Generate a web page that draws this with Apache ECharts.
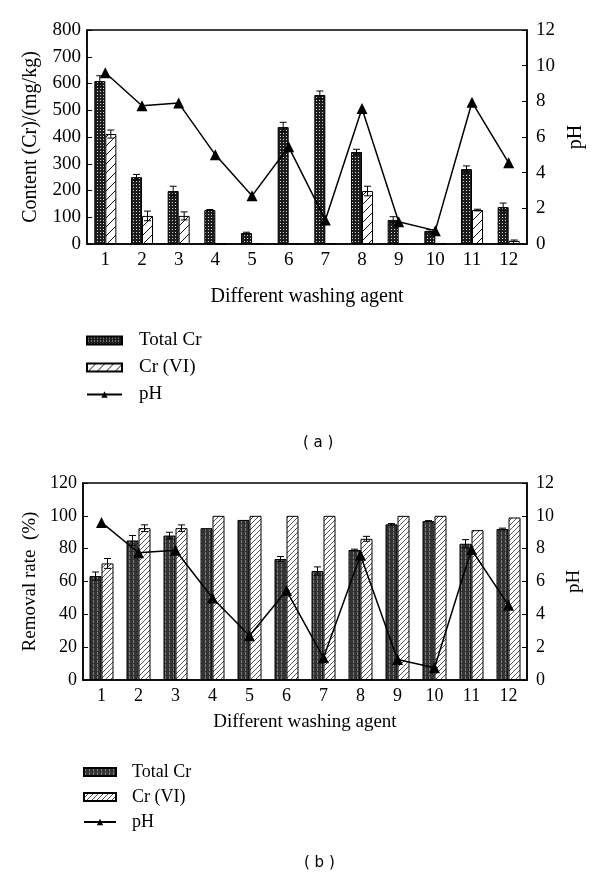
<!DOCTYPE html>
<html><head><meta charset="utf-8">
<script src="https://cdn.jsdelivr.net/npm/echarts@6/dist/echarts.min.js"></script>
<style>html,body{margin:0;padding:0;background:#fff;width:600px;height:879px;overflow:hidden}
#a{position:absolute;left:0;top:0;width:600px;height:460px}
#b{position:absolute;left:0;top:440px;width:600px;height:439px}</style>
</head><body><div id="a"></div><div id="b"></div>
<script>
// ---- data ----
const agents = ['1','2','3','4','5','6','7','8','9','10','11','12'];
const contentTotal    = [609, 250, 198, 127, 41, 437, 557, 344, 90, 49, 280, 138];
const contentTotalErr = [20, 10, 18, 2, 3, 18, 15, 10, 12, 5, 12, 15];
const contentCr6      = [411, 105, 105, 0, 2, 3, 2, 198, 3, 2, 127, 12];
const contentCr6Err   = [15, 18, 15, 0, 0, 0, 0, 18, 0, 0, 3, 3];
const pHValues        = [9.6, 7.75, 7.9, 5.0, 2.7, 5.45, 1.35, 7.6, 1.25, 0.75, 7.95, 4.55];
const removalTotal    = [63.3, 85, 88, 92.5, 97.5, 73.7, 66.4, 79.2, 94.8, 96.8, 83, 92];
const removalTotalErr = [2.5, 3, 2, 0, 0, 1.5, 2.5, 0.5, 0.5, 0.3, 2.5, 0.5];
const removalCr6      = [71, 92.5, 92.5, 100, 100, 100, 100, 86, 100, 100, 91.3, 99];
const removalCr6Err   = [3, 2, 2, 0, 0, 0, 0, 1.5, 0, 0, 0, 0];
const contentTicks = {min:0, max:800, interval:100};
const removalTicks = {min:0, max:120, interval:20};
const pHTicks = {min:0, max:12, interval:2};

const SERIF = "'Liberation Serif','Times New Roman',serif";

function tile(w, h, draw){
  const c = document.createElement('canvas'); c.width = w; c.height = h;
  const g = c.getContext('2d'); draw(g); return {image:c, repeat:'repeat'};
}
const patTopTotal = tile(3,3,g=>{g.fillStyle='#1c1c1c';g.fillRect(0,0,3,3);g.fillStyle='#d8d8d8';g.fillRect(1,1,1,1);});
const patTopCr6 = tile(9,9,g=>{g.fillStyle='#fff';g.fillRect(0,0,9,9);g.strokeStyle='#111';g.lineWidth=1;g.beginPath();g.moveTo(0,9);g.lineTo(9,0);g.stroke();});
const patBotTotal = tile(4,4,g=>{g.fillStyle='#333';g.fillRect(0,0,4,4);g.fillStyle='#7a7a7a';g.fillRect(1,0,1,3);});
const patBotCr6 = tile(5,5,g=>{g.fillStyle='#fff';g.fillRect(0,0,5,5);g.strokeStyle='#555';g.lineWidth=1;g.beginPath();g.moveTo(0,5);g.lineTo(5,0);g.stroke();});

function errSeries(vals, errs, offset){
  return {
    type:'custom', xAxisIndex:0, yAxisIndex:0, z:6, silent:true,
    data: vals.map((v,i)=>[i, v-errs[i], v+errs[i], errs[i]]),
    encode:{x:0, y:[1,2]},
    renderItem:(params, api)=>{
      if (api.value(3) <= 0) return null;
      const lo = api.coord([api.value(0), api.value(1)]);
      const hi = api.coord([api.value(0), api.value(2)]);
      const x = lo[0] + offset;
      const st = {stroke:'#000', lineWidth:1};
      return {type:'group', children:[
        {type:'line', shape:{x1:x,y1:lo[1],x2:x,y2:hi[1]}, style:st},
        {type:'line', shape:{x1:x-3.5,y1:hi[1],x2:x+3.5,y2:hi[1]}, style:st},
        {type:'line', shape:{x1:x-3.5,y1:lo[1],x2:x+3.5,y2:lo[1]}, style:st}
      ]};
    }
  };
}

function build(cfg){
  const bw = cfg.barWidth;
  return {
    animation:false,
    grid:{left:cfg.left, right:73, top:cfg.top, height:cfg.height, show:true, borderColor:'#000', borderWidth:1.5, containLabel:false},
    legend:{orient:'vertical', left:cfg.legLeft, top:cfg.legTop, itemWidth:cfg.legW, itemHeight:8, itemGap:cfg.legGap, padding:0,
      data:[{name:'Total Cr', icon:'rect'},{name:'Cr (VI)', icon:'rect'},{name:'pH'}],
      textStyle:{fontFamily:SERIF, fontSize:cfg.legFont, color:'#000', padding:[0,0,0,cfg.legPad]}},
    xAxis:{type:'category', data:agents, boundaryGap:true,
      name:'Different washing agent', nameLocation:'middle', nameGap:cfg.xNameGap,
      nameTextStyle:{fontFamily:SERIF, fontSize:cfg.nameFont, color:'#000'},
      axisLine:{lineStyle:{color:'#000', width:1.5}},
      axisTick:{inside:true, length:5, lineStyle:{color:'#000'}, alignWithLabel:false},
      axisLabel:{fontFamily:SERIF, fontSize:cfg.tickFont, color:'#000', margin:7}},
    yAxis:[
      {type:'value', min:cfg.ticks.min, max:cfg.ticks.max, interval:cfg.ticks.interval,
        name:cfg.yName, nameLocation:'middle', nameGap:cfg.yNameGap,
        nameTextStyle:{fontFamily:SERIF, fontSize:cfg.nameFont, color:'#000'},
        axisLine:{show:true, lineStyle:{color:'#000', width:1.5}},
        axisTick:{show:true, inside:true, length:5, lineStyle:{color:'#000'}},
        axisLabel:{fontFamily:SERIF, fontSize:cfg.tickFont, color:'#000', margin:6},
        splitLine:{show:false}},
      {type:'value', position:'right', min:pHTicks.min, max:pHTicks.max, interval:pHTicks.interval,
        name:'pH', nameLocation:'middle', nameGap:cfg.pHNameGap,
        nameTextStyle:{fontFamily:SERIF, fontSize:cfg.nameFont, color:'#000'},
        axisLine:{show:true, lineStyle:{color:'#000', width:1.5}},
        axisTick:{show:true, inside:true, length:5, lineStyle:{color:'#000'}},
        axisLabel:{fontFamily:SERIF, fontSize:cfg.tickFont, color:'#000', margin:9},
        splitLine:{show:false}}
    ],
    graphic:[{type:'text', left:cfg.capX, top:cfg.capY,
      style:{text:cfg.caption, font:"15px 'DejaVu Sans', sans-serif", fill:'#000'}}],
    series:[
      {name:'Total Cr', type:'bar', data:cfg.total, barWidth:bw, barGap:'0%',
        itemStyle:{color:cfg.patTotal, borderColor:'#000', borderWidth:1}},
      {name:'Cr (VI)', type:'bar', data:cfg.cr6, barWidth:bw, barGap:'0%',
        itemStyle:{color:cfg.patCr6, borderColor:'#000', borderWidth:1}},
      errSeries(cfg.total, cfg.totalErr, -bw/2),
      errSeries(cfg.cr6, cfg.cr6Err, bw/2),
      {name:'pH', type:'line', yAxisIndex:1, data:pHValues, z:10,
        symbol:'triangle', symbolSize:11, itemStyle:{color:'#000'},
        lineStyle:{color:'#000', width:1.5}}
    ]
  };
}

const chartA = echarts.init(document.getElementById('a'), null, {renderer:'canvas'});
chartA.setOption(build({
  left:87, top:30, height:214, barWidth:11, ticks:contentTicks,
  yName:'Content (Cr)/(mg/kg)', yNameGap:46, pHNameGap:33, xNameGap:43,
  tickFont:19, nameFont:20, legFont:19, legLeft:86, legTop:331, legW:35, legGap:8, legPad:12,
  total:contentTotal, totalErr:contentTotalErr, cr6:contentCr6, cr6Err:contentCr6Err,
  patTotal:patTopTotal, patCr6:patTopCr6, caption:'( a )', capX:303, capY:436
}));
const chartB = echarts.init(document.getElementById('b'), null, {renderer:'canvas'});
chartB.setOption(build({
  left:83, top:43, height:197, barWidth:12, ticks:removalTicks,
  yName:'Removal rate  (%)', yNameGap:42, pHNameGap:33, xNameGap:33,
  tickFont:18, nameFont:19, legFont:18, legLeft:83, legTop:323, legW:32, legGap:7, legPad:11,
  total:removalTotal, totalErr:removalTotalErr, cr6:removalCr6, cr6Err:removalCr6Err,
  patTotal:patBotTotal, patCr6:patBotCr6, caption:'( b )', capX:304, capY:416
}));
</script></body></html>
